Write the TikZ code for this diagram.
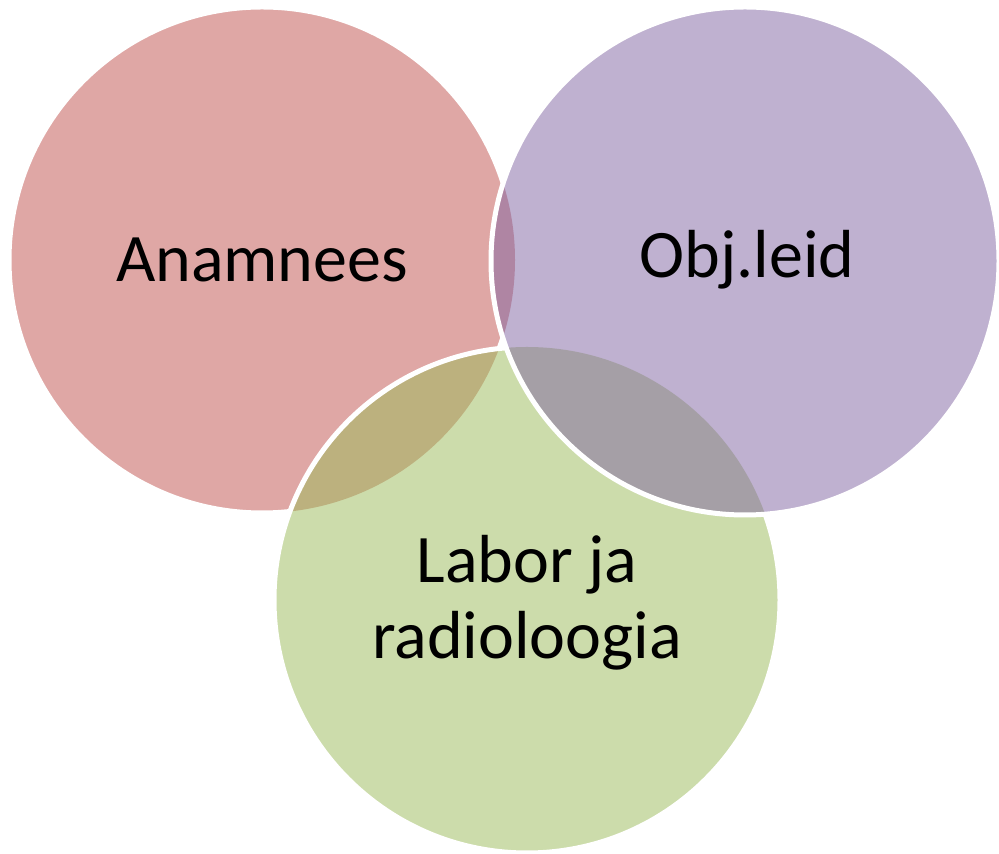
\documentclass[tikz,border=0pt]{standalone}
\usepackage{fontspec}
\setmainfont{Carlito}
\definecolor{cred}{HTML}{C0504D}
\definecolor{cpurple}{HTML}{8064A2}
\definecolor{cgreen}{HTML}{9BBB59}
\tikzset{
  reverseclip/.style={insert path={(-100,1000) -- (1100,1000) -- (1100,-100) -- (-100,-100) -- cycle}},
  venn/.style={fill opacity=0.5},
  rim/.style={draw=white, line width=5pt},
  lbl/.style={font=\fontsize{68}{76}\selectfont, text=black, inner sep=0pt, anchor=base}
}
\begin{document}
\begin{tikzpicture}[x=1pt,y=1pt]
\useasboundingbox (0,0) rectangle (999,854);
\fill[white] (0,0) rectangle (999,854);
\coordinate (cr) at (262,594);
\coordinate (cp) at (745,593);
\coordinate (cg) at (527,254);
% fills: red, green, purple on top
\fill[venn, cred] (cr) circle (253);
\fill[venn, cgreen] (cg) circle (253);
\fill[venn, cpurple] (cp) circle (254);
% red rim: visible outside green and purple
\begin{scope}
  \clip (cp) circle (254) [reverseclip];
  \clip (cg) circle (253) [reverseclip];
  \draw[rim] (cr) circle (253);
\end{scope}
% green rim: visible outside purple
\begin{scope}
  \clip (cp) circle (254) [reverseclip];
  \draw[rim] (cg) circle (253);
\end{scope}
% purple rim: fully visible
\draw[rim] (cp) circle (254);
% labels
\node[lbl] (anam) at (262,572) {Anamnees};
\node[lbl] (obj) at (747,576) {Obj.leid};
\node[lbl] (lab1) at (527,271) {Labor ja};
\node[lbl] (lab2) at (527,195) {radioloogia};
\end{tikzpicture}
\end{document}
